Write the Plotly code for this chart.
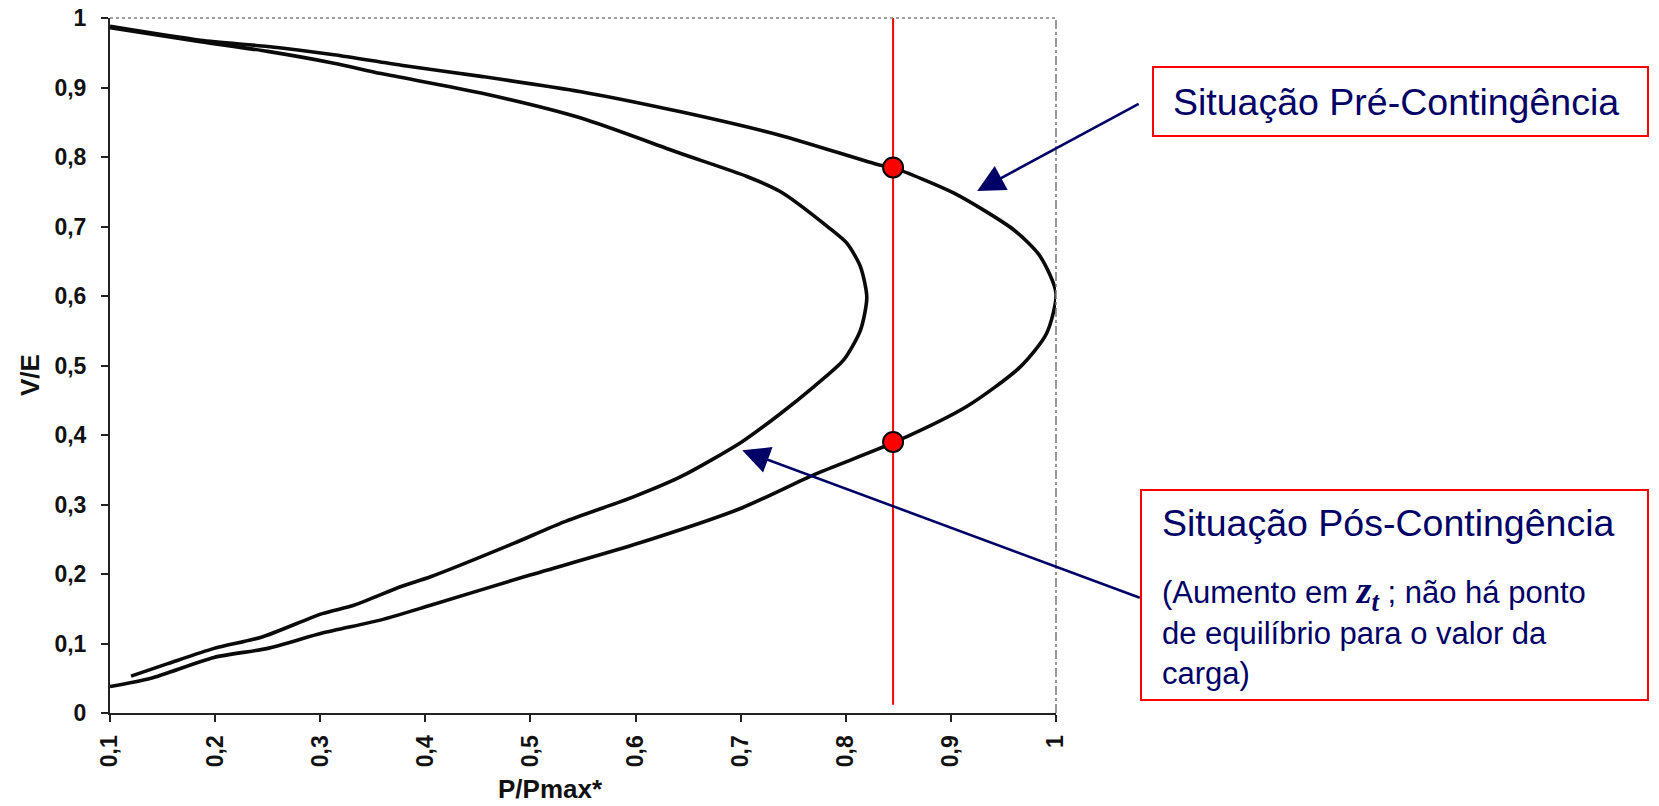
import plotly.graph_objects as go

# ---------------- data ----------------
# Pre-contingency PV curve (outer "nose"), traced from top branch to bottom branch
pre_p = [0.100, 0.186, 0.250, 0.313, 0.377, 0.453, 0.548, 0.643, 0.738, 0.833,
         0.846, 0.903, 0.960, 0.985, 1.000, 0.991, 0.966, 0.915, 0.847, 0.770,
         0.701, 0.598, 0.494, 0.405, 0.358, 0.302, 0.250, 0.199, 0.139, 0.100]
pre_v = [0.988, 0.968, 0.959, 0.947, 0.932, 0.916, 0.894, 0.865, 0.831, 0.788,
         0.784, 0.748, 0.695, 0.657, 0.604, 0.546, 0.498, 0.441, 0.390, 0.343,
         0.295, 0.242, 0.196, 0.155, 0.134, 0.115, 0.093, 0.080, 0.050, 0.038]

# Post-contingency PV curve (inner "nose")
post_p = [0.100, 0.186, 0.250, 0.313, 0.358, 0.453, 0.548, 0.643, 0.706, 0.738,
          0.785, 0.801, 0.814, 0.820, 0.814, 0.798, 0.770, 0.738, 0.701, 0.643,
          0.598, 0.532, 0.484, 0.405, 0.377, 0.332, 0.302, 0.244, 0.199, 0.155, 0.120]
post_v = [0.986, 0.966, 0.952, 0.935, 0.920, 0.892, 0.856, 0.805, 0.772, 0.750,
          0.697, 0.676, 0.642, 0.598, 0.551, 0.508, 0.470, 0.431, 0.390, 0.340,
          0.311, 0.275, 0.244, 0.196, 0.182, 0.155, 0.143, 0.109, 0.093, 0.071, 0.053]

# Load demand line and operating points
load_p = 0.845
load_line_v = [0.012, 1.0]
op_points_v = [0.785, 0.390]

# Axis ticks
x_ticks = [0.1, 0.2, 0.3, 0.4, 0.5, 0.6, 0.7, 0.8, 0.9, 1.0]
x_labels = ["0,1", "0,2", "0,3", "0,4", "0,5", "0,6", "0,7", "0,8", "0,9", "1"]
y_ticks = [0, 0.1, 0.2, 0.3, 0.4, 0.5, 0.6, 0.7, 0.8, 0.9, 1.0]
y_labels = ["0", "0,1", "0,2", "0,3", "0,4", "0,5", "0,6", "0,7", "0,8", "0,9", "1"]

x_title = "P/Pmax*"
y_title = "V/E"
pre_label = "Situação Pré-Contingência"
post_label = "Situação Pós-Contingência"
post_lines = [
    "(Aumento em <span style='font-family:Liberation Serif;font-size:38px'><b><i>z</i></b>"
    "<sub><b><i>t</i></b></sub></span> ; não há ponto",
    "de equilíbrio para o valor da",
    "carga)",
]

# ---------------- layout geometry ----------------
FIG_W, FIG_H = 1659, 806
L, R, T, B = 110, 603, 18, 93
PW = FIG_W - L - R
PH = FIG_H - T - B


def px_x(px):
    return (px - L) / PW


def px_y(py):
    return (T + PH - py) / PH


NAVY = "#000066"
TXT_FONT = "Liberation Sans, Arial, sans-serif"
AX_FONT = dict(family=TXT_FONT, size=23, color="#111111", weight="bold")
CURVE = dict(color="#0a0a0a", width=3.6, shape="spline", smoothing=0.7)

fig = go.Figure()

fig.add_trace(go.Scatter(x=pre_p, y=pre_v, mode="lines", line=CURVE,
                         showlegend=False, hoverinfo="skip"))
fig.add_trace(go.Scatter(x=post_p, y=post_v, mode="lines", line=CURVE,
                         showlegend=False, hoverinfo="skip"))
fig.add_trace(go.Scatter(x=[load_p, load_p], y=load_line_v, mode="lines",
                         line=dict(color="#ff0000", width=2),
                         showlegend=False, hoverinfo="skip"))
fig.add_trace(go.Scatter(x=[load_p] * len(op_points_v), y=op_points_v, mode="markers",
                         marker=dict(size=20, color="#ff0000",
                                     line=dict(color="#000000", width=2)),
                         showlegend=False, hoverinfo="skip", cliponaxis=False))

shapes = [
    # dotted top border and dash-dot right border of the scanned frame
    dict(type="line", xref="paper", yref="paper", x0=0, x1=1, y0=1, y1=1,
         line=dict(color="#808080", width=1.5, dash="dot")),
    dict(type="line", xref="paper", yref="paper", x0=1, x1=1, y0=0, y1=1,
         line=dict(color="#777777", width=1.5, dash="dashdot")),
    # annotation boxes
    dict(type="rect", xref="paper", yref="paper",
         x0=px_x(1153), x1=px_x(1648), y0=px_y(136), y1=px_y(67),
         line=dict(color="#ff0000", width=2), fillcolor="white", layer="above"),
    dict(type="rect", xref="paper", yref="paper",
         x0=px_x(1141), x1=px_x(1648), y0=px_y(700), y1=px_y(490),
         line=dict(color="#ff0000", width=2), fillcolor="white", layer="above"),
]

annotations = [
    dict(xref="paper", yref="paper", x=px_x(1171), y=px_y(102), xanchor="left",
         yanchor="middle", text=pre_label, showarrow=False,
         font=dict(family=TXT_FONT, size=37.5, color=NAVY)),
    dict(xref="paper", yref="paper", x=px_x(1160), y=px_y(523), xanchor="left",
         yanchor="middle", text=post_label, showarrow=False,
         font=dict(family=TXT_FONT, size=37.5, color=NAVY)),
]
for i, line in enumerate(post_lines):
    annotations.append(dict(xref="paper", yref="paper", x=px_x(1160), y=px_y(593 + 40 * i),
                            xanchor="left", yanchor="middle", text=line, showarrow=False,
                            font=dict(family=TXT_FONT, size=31, color=NAVY)))

# arrows pointing at the curves
annotations.append(dict(x=0.925, y=0.751, xref="x", yref="y", text="", showarrow=True,
                        ax=1140 - 977, ay=103 - 191, arrowhead=2, arrowsize=2.1,
                        arrowwidth=2.6, arrowcolor=NAVY, standoff=0))
annotations.append(dict(x=0.7015, y=0.378, xref="x", yref="y", text="", showarrow=True,
                        ax=1141 - 742, ay=598 - 450, arrowhead=2, arrowsize=2.1,
                        arrowwidth=2.6, arrowcolor=NAVY, standoff=0))

# axis titles
annotations.append(dict(xref="paper", yref="paper", x=px_x(550), y=px_y(789),
                        xanchor="center", yanchor="middle", text=x_title, showarrow=False,
                        font=dict(family=TXT_FONT, size=26, color="#111111", weight="bold")))
annotations.append(dict(xref="paper", yref="paper", x=px_x(30), y=px_y(375),
                        xanchor="center", yanchor="middle", text=y_title, showarrow=False,
                        textangle=-90,
                        font=dict(family=TXT_FONT, size=26, color="#111111", weight="bold")))

fig.update_layout(
    width=FIG_W, height=FIG_H,
    margin=dict(l=L, r=R, t=T, b=B, pad=0, autoexpand=False),
    paper_bgcolor="white", plot_bgcolor="white",
    shapes=shapes, annotations=annotations,
    showlegend=False,
    xaxis=dict(range=[0.1, 1.0], tickmode="array", tickvals=x_ticks, ticktext=x_labels,
               tickangle=-90, tickfont=AX_FONT, ticks="outside", ticklen=7, tickwidth=1.5,
               tickcolor="#222222", showline=True, linecolor="#222222", linewidth=2,
               showgrid=False, zeroline=False, ticklabelstandoff=4, automargin=False),
    yaxis=dict(range=[0, 1.0], tickmode="array", tickvals=y_ticks, ticktext=y_labels,
               tickfont=AX_FONT, ticks="outside", ticklen=7, tickwidth=1.5,
               tickcolor="#222222", showline=True, linecolor="#222222", linewidth=2,
               showgrid=False, zeroline=False, ticklabelstandoff=10, automargin=False),
)

fig.write_html("out.html", config={"displayModeBar": False},
               post_script="document.body.style.margin='0';document.body.style.overflow='hidden';")
